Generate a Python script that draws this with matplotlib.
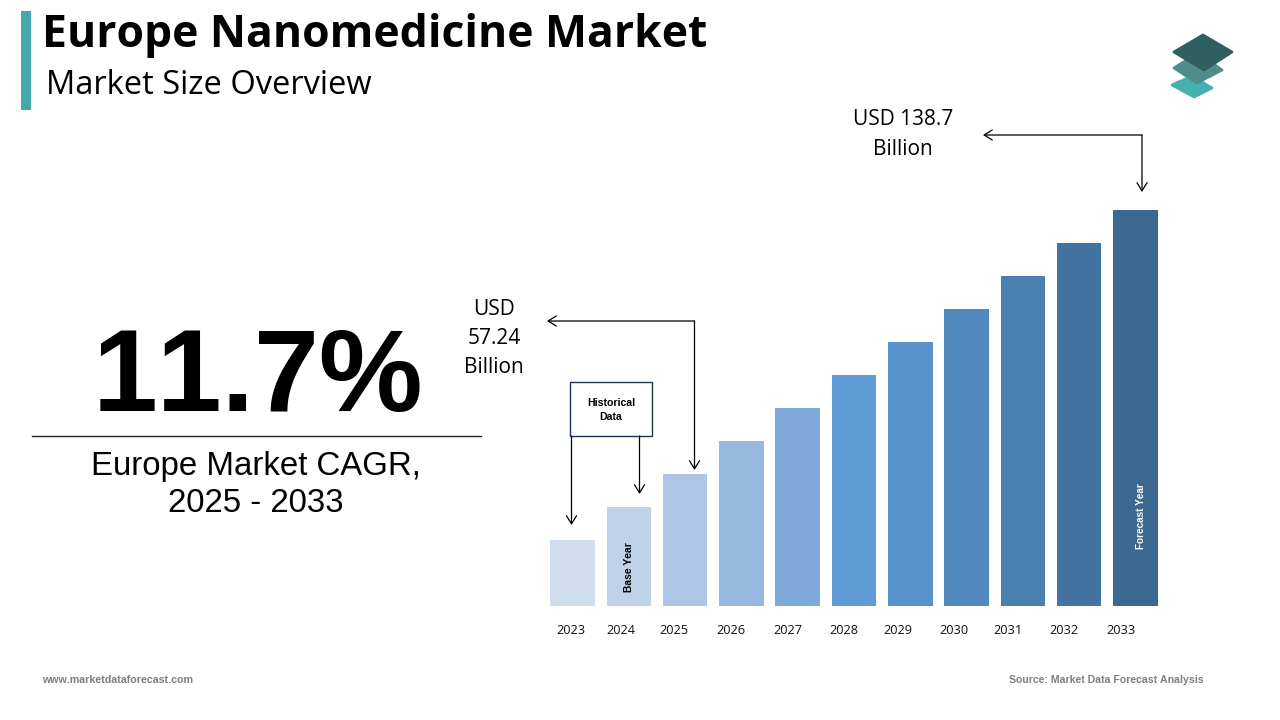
"""Europe nanomedicine market size slide."""
import matplotlib
matplotlib.use("Agg")
import matplotlib.pyplot as plt
from matplotlib.patches import Polygon, Rectangle

years = ["2023", "2024", "2025", "2026", "2027", "2028", "2029", "2030", "2031", "2032", "2033"]
# drawn heights (the slide's bars are schematic, not to scale)
bar_heights = [66, 99, 132, 165, 198, 231, 264, 297, 330, 363, 396]
bar_colors = ["#CFDCEE", "#BED1E9", "#AEC6E5", "#97B8DF", "#7FA9DA", "#5F9BD6",
              "#5892CC", "#5289BE", "#4A80B0", "#4374A1", "#3C6992"]
year_label_x = [571, 621, 674, 731, 788, 844, 898, 954, 1008, 1064, 1121]

cagr_text = "11.7%"
cagr_caption = "Europe Market CAGR,\n2025 - 2033"
value_start = "USD\n57.24\nBillion"
value_end = "USD 138.7\nBillion"

MAIN_FONT = ["Open Sans", "DejaVu Sans"]
NARROW_FONT = ["Liberation Sans Narrow", "Liberation Sans", "DejaVu Sans"]
ARIAL_FONT = ["Liberation Sans", "DejaVu Sans"]

# the "11" in Liberation kerns far tighter than the slide's font
plt.rcParams["text.kerning_factor"] = 6

fig = plt.figure(figsize=(12.8, 7.2), dpi=100, facecolor="white")

# overlay in slide pixels for text, callouts and decoration, drawn above the bars
ax = fig.add_axes([0, 0, 1, 1])
ax.set_xlim(0, 1280)
ax.set_ylim(720, 0)
ax.axis("off")
ax.set_zorder(2)

# bars sit on their own axes, baseline at y=606 px on the slide
BASELINE = 606
STEP = 56.3
FIRST_CENTER = 572.5
ax_bars = fig.add_axes([0, (720 - BASELINE) / 720, 1, BASELINE / 720])
ax_bars.set_xlim(-FIRST_CENTER / STEP, (1280 - FIRST_CENTER) / STEP)
ax_bars.set_ylim(0, BASELINE)
ax_bars.axis("off")
ax_bars.set_zorder(1)
ax_bars.bar(range(len(years)), bar_heights, width=44.5 / STEP, color=bar_colors)

for label, x in zip(years, year_label_x):
    ax.text(x, 631, label, ha="center", va="center", fontsize=9.2, family=MAIN_FONT, color="#111111")

# header
ax.add_patch(Rectangle((21, 11), 10, 99, color="#45A9A9", lw=0))
ax.text(42, 36, "Europe Nanomedicine Market", ha="left", va="center", fontsize=32,
        fontweight="bold", family=MAIN_FONT, color="black")
ax.text(46, 85, "Market Size Overview", ha="left", va="center", fontsize=23.5,
        family=MAIN_FONT, color="black")

# logo, back to front
ax.add_patch(Polygon([(1172, 85), (1192, 76), (1212, 88), (1194, 97)], closed=True,
                     fc="#47B0AE", ec="#47B0AE", lw=2, joinstyle="round"))
ax.add_patch(Polygon([(1174, 68), (1198, 53), (1222, 70), (1197, 83)], closed=True,
                     fc="#4F8D8C", ec="#4F8D8C", lw=2, joinstyle="round"))
ax.add_patch(Polygon([(1174, 52), (1203, 35), (1232, 52), (1204, 70)], closed=True,
                     fc="#2F5F5E", ec="#2F5F5E", lw=2, joinstyle="round"))

# CAGR block
ax.text(258, 380, cagr_text, ha="center", va="center", fontsize=84, fontweight="bold",
        family=ARIAL_FONT, color="black")
ax.plot([32, 481], [436, 436], color="#222222", lw=1)
ax.text(256, 485, cagr_caption, ha="center", va="center", fontsize=23.8, family=ARIAL_FONT,
        color="black", linespacing=1.24)


def arrow(start, end):
    ax.annotate("", xy=end, xytext=start,
                arrowprops=dict(arrowstyle="->,head_length=0.45,head_width=0.28", color="black",
                                lw=0.9, shrinkA=0, shrinkB=0, mutation_scale=13))


# value callouts
ax.text(903, 134.5, value_end, ha="center", va="center", fontsize=15, family=MAIN_FONT,
        color="black", linespacing=1.52)
arrow((1142, 135), (983, 135))
arrow((1142, 135), (1142, 192))

ax.text(494, 338.5, value_start, ha="center", va="center", fontsize=15, family=MAIN_FONT,
        color="black", linespacing=1.52)
arrow((694.5, 321), (547, 321))
arrow((694.5, 321), (694.5, 470))

# historical data box
ax.add_patch(Rectangle((570, 382), 82, 54, fc="white", ec="#1F3550", lw=1))
ax.text(611, 410, "Historical\nData", ha="center", va="center", fontsize=7.6, fontweight="bold",
        family=NARROW_FONT, color="black", linespacing=1.6)
arrow((571.5, 436), (571.5, 525))
arrow((639.5, 436), (639.5, 494))

# labels inside bars
ax.text(629, 567, "Base Year", ha="center", va="center", rotation=90, fontsize=7.4,
        fontweight="bold", family=NARROW_FONT, color="black")
ax.text(1141, 516, "Forecast Year", ha="center", va="center", rotation=90, fontsize=7.2,
        fontweight="bold", family=NARROW_FONT, color="white")

# footer
ax.text(42, 680, "www.marketdataforecast.com", ha="left", va="center", fontsize=7.7,
        fontweight="bold", family=NARROW_FONT, color="#7F7F7F")
ax.text(1204, 680, "Source: Market Data Forecast Analysis", ha="right", va="center", fontsize=7.6,
        fontweight="bold", family=NARROW_FONT, color="#7F7F7F")

fig.savefig("out.png", dpi=100)
